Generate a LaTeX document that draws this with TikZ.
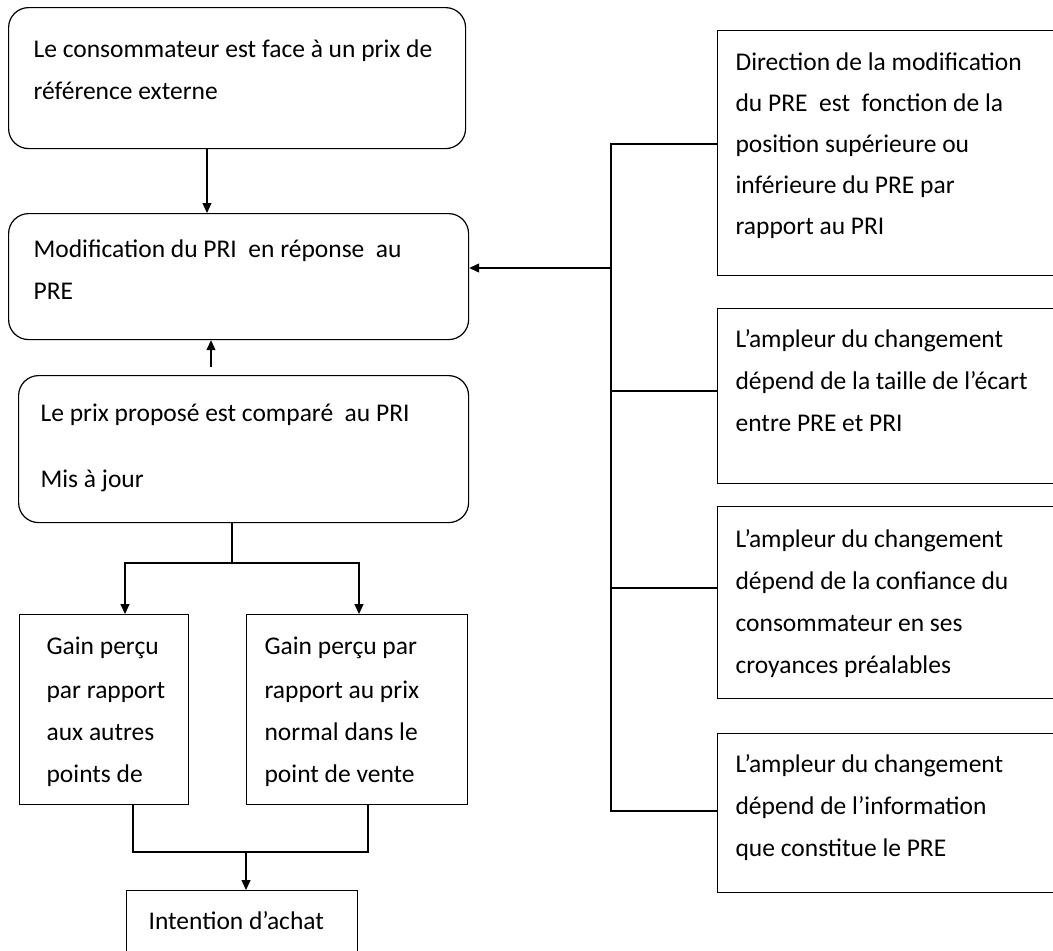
\documentclass[tikz,border=0pt]{standalone}
\usepackage{fontspec}
\setmainfont{Carlito}
\usetikzlibrary{arrows.meta, positioning, calc}

% width, height, left pad, top pad, text
\newcommand{\celltext}[5]{%
  \parbox[c][#2][t]{#1}{\leftskip=#3\rightskip=-40pt plus 1fil\parindent=0pt
    \vspace*{#4}\strut#5}}

\begin{document}
\begin{tikzpicture}[
        x=1pt, y=-1pt,
        every node/.style={font=\fontsize{25.5}{42}\selectfont},
        rbox/.style={draw, line width=1.2pt, rounded corners=20pt, anchor=north west, inner sep=0pt},
        sbox/.style={draw, line width=1.2pt, anchor=north west, inner sep=0pt},
        arr/.style={-{Triangle[length=10pt,width=9pt]}, line width=1.2pt},
        link/.style={line width=1.2pt}
    ]
        \useasboundingbox (0,0) rectangle (1053,951);
        \clip (0,0) rectangle (1053,951);

        % left column
        \node[rbox] (ext)   at (8,7)     {\celltext{457pt}{141pt}{25pt}{20pt}{Le consommateur est face à un prix de\\référence externe}};
        \node[rbox] (pri)   at (8,213)   {\celltext{460pt}{126pt}{25pt}{14pt}{Modification du PRI\ \ en réponse\ \ au\\PRE}};
        \node[rbox] (comp)  at (18,375)  {\celltext{450pt}{147pt}{22pt}{16pt}{Le prix proposé est comparé\ \ au PRI\\[24pt]Mis à jour}};
        \node[sbox] (gainA) at (19,614)  {\celltext{169pt}{190pt}{27pt}{10pt}{Gain perçu\\[2pt]par rapport\\aux autres\\points de}};
        \node[sbox] (gainB) at (246,614) {\celltext{221pt}{190pt}{18pt}{10pt}{Gain perçu par\\[2pt]rapport au prix\\normal dans le\\point de vente}};
        \node[sbox] (achat) at (126,890) {\celltext{231pt}{100pt}{22pt}{9pt}{Intention d’achat}};

        % right column
        \node[sbox, font=\fontsize{25.5}{41}\selectfont] (dir) at (717,30) {\celltext{400pt}{245pt}{18pt}{11pt}{Direction de la modification\\du PRE\ \ est\ \ fonction de la\\position supérieure ou\\inférieure du PRE par\\rapport au PRI}};
        \node[sbox] (ecart) at (717,308) {\celltext{400pt}{175pt}{18pt}{9pt}{L’ampleur du changement\\dépend de la taille de l’écart\\entre PRE et PRI}};
        \node[sbox] (conf)  at (717,506) {\celltext{400pt}{192pt}{18pt}{11pt}{L’ampleur du changement\\dépend de la confiance du\\consommateur en ses\\croyances préalables}};
        \node[sbox] (info)  at (717,733) {\celltext{400pt}{159pt}{18pt}{9pt}{L’ampleur du changement\\dépend de l’information\\que constitue le PRE}};

        \draw[arr] ([xshift=199pt]ext.south west) -- ([xshift=199pt]pri.north west);
        \draw[arr] ([xshift=193pt,yshift=8pt]comp.north west) -- ([xshift=203pt]pri.south west);

        % split towards the two gains
        \coordinate (split) at (232,563);
        \draw[link] (comp.south west -| split) -- (split);
        \draw[arr] (split) -| ([xshift=106pt]gainA.north west);
        \draw[arr] (split) -| ([xshift=113pt]gainB.north west);

        % join towards intention
        \coordinate (join) at (246,852);
        \draw[link] ([xshift=114pt]gainA.south west) |- (join);
        \draw[link] ([xshift=122pt]gainB.south west) |- (join);
        \draw[arr] (join) -- (achat.north west -| join);

        % bus from the right boxes
        \coordinate (bus) at (611,268);
        \coordinate (dirin)   at ([yshift=-114pt]dir.north west);
        \coordinate (ecartin) at ([yshift=-83pt]ecart.north west);
        \coordinate (confin)  at ([yshift=-82pt]conf.north west);
        \coordinate (infoin)  at ([yshift=-78pt]info.north west);
        \draw[link] (dirin) -| (bus |- infoin) -- (infoin);
        \draw[link] (ecartin) -- (bus |- ecartin);
        \draw[link] (confin) -- (bus |- confin);
        \draw[arr] (bus) -- (bus -| pri.east);
    \end{tikzpicture}
\end{document}
